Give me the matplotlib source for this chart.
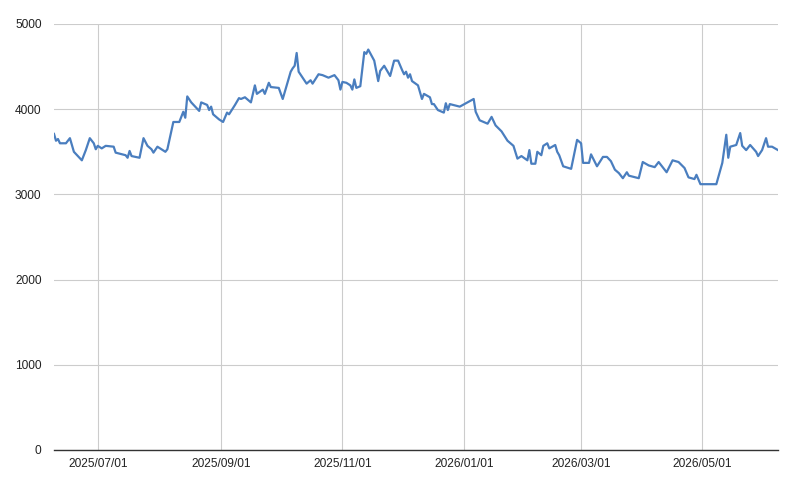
import matplotlib
matplotlib.use("Agg")
import matplotlib.pyplot as plt
import matplotlib.dates as mdates
import pandas as pd

dates = [
    "2025-06-09", "2025-06-10", "2025-06-11", "2025-06-12", "2025-06-15", "2025-06-17",
    "2025-06-19", "2025-06-21", "2025-06-23", "2025-06-25", "2025-06-27", "2025-06-29",
    "2025-06-30", "2025-07-01", "2025-07-03", "2025-07-05", "2025-07-09", "2025-07-10",
    "2025-07-15", "2025-07-16", "2025-07-17", "2025-07-18", "2025-07-22", "2025-07-24",
    "2025-07-26", "2025-07-28", "2025-07-29", "2025-07-31", "2025-08-02", "2025-08-04",
    "2025-08-05", "2025-08-08", "2025-08-11", "2025-08-13", "2025-08-14", "2025-08-15",
    "2025-08-17", "2025-08-19", "2025-08-21", "2025-08-22", "2025-08-25", "2025-08-26",
    "2025-08-27", "2025-08-28", "2025-08-31", "2025-09-02", "2025-09-04", "2025-09-05",
    "2025-09-08", "2025-09-10", "2025-09-11", "2025-09-13", "2025-09-16", "2025-09-18",
    "2025-09-19", "2025-09-22", "2025-09-23", "2025-09-25", "2025-09-26", "2025-09-30",
    "2025-10-02", "2025-10-06", "2025-10-07", "2025-10-08", "2025-10-09", "2025-10-10",
    "2025-10-12", "2025-10-14", "2025-10-16", "2025-10-17", "2025-10-20", "2025-10-22",
    "2025-10-25", "2025-10-28", "2025-10-30", "2025-10-31", "2025-11-01", "2025-11-03",
    "2025-11-05", "2025-11-06", "2025-11-07", "2025-11-08", "2025-11-10", "2025-11-12",
    "2025-11-13", "2025-11-14", "2025-11-17", "2025-11-19", "2025-11-20", "2025-11-22",
    "2025-11-25", "2025-11-27", "2025-11-29", "2025-12-01", "2025-12-02", "2025-12-03",
    "2025-12-04", "2025-12-05", "2025-12-06", "2025-12-09", "2025-12-11", "2025-12-12",
    "2025-12-15", "2025-12-16", "2025-12-17", "2025-12-19", "2025-12-22", "2025-12-23",
    "2025-12-24", "2025-12-25", "2025-12-30", "2026-01-06", "2026-01-07", "2026-01-09",
    "2026-01-13", "2026-01-15", "2026-01-17", "2026-01-20", "2026-01-23", "2026-01-26",
    "2026-01-28", "2026-01-30", "2026-02-02", "2026-02-03", "2026-02-04", "2026-02-06",
    "2026-02-07", "2026-02-09", "2026-02-10", "2026-02-12", "2026-02-13", "2026-02-16",
    "2026-02-17", "2026-02-18", "2026-02-20", "2026-02-24", "2026-02-27", "2026-03-01",
    "2026-03-02", "2026-03-05", "2026-03-06", "2026-03-09", "2026-03-12", "2026-03-14",
    "2026-03-16", "2026-03-18", "2026-03-20", "2026-03-22", "2026-03-24", "2026-03-25",
    "2026-03-30", "2026-04-01", "2026-04-04", "2026-04-07", "2026-04-09", "2026-04-11",
    "2026-04-13", "2026-04-16", "2026-04-19", "2026-04-22", "2026-04-24", "2026-04-27",
    "2026-04-28", "2026-04-30", "2026-05-02", "2026-05-08", "2026-05-11", "2026-05-13",
    "2026-05-14", "2026-05-15", "2026-05-18", "2026-05-20", "2026-05-21", "2026-05-23",
    "2026-05-25", "2026-05-28", "2026-05-29", "2026-05-31", "2026-06-02", "2026-06-03",
    "2026-06-05", "2026-06-08",
]

values = [
    3710, 3630, 3650, 3600, 3600, 3660,
    3500, 3450, 3400, 3520, 3660, 3600,
    3530, 3570, 3540, 3570, 3560, 3490,
    3460, 3430, 3510, 3450, 3430, 3660,
    3570, 3530, 3490, 3560, 3530, 3500,
    3530, 3850, 3850, 3970, 3900, 4150,
    4080, 4030, 3980, 4080, 4050, 3990,
    4030, 3940, 3880, 3850, 3960, 3940,
    4050, 4130, 4120, 4140, 4080, 4280,
    4180, 4230, 4180, 4310, 4260, 4250,
    4120, 4440, 4480, 4510, 4660, 4440,
    4370, 4300, 4340, 4300, 4410, 4400,
    4370, 4400, 4340, 4230, 4320, 4310,
    4280, 4230, 4350, 4250, 4270, 4670,
    4650, 4700, 4570, 4330, 4450, 4510,
    4390, 4570, 4570, 4460, 4410, 4440,
    4370, 4410, 4330, 4280, 4120, 4180,
    4140, 4060, 4060, 3990, 3960, 4070,
    3990, 4060, 4030, 4120, 3970, 3870,
    3830, 3910, 3810, 3740, 3630, 3570,
    3420, 3450, 3400, 3520, 3360, 3360,
    3500, 3460, 3570, 3600, 3540, 3580,
    3500, 3460, 3330, 3300, 3640, 3600,
    3370, 3370, 3470, 3330, 3440, 3440,
    3390, 3290, 3250, 3190, 3260, 3220,
    3190, 3380, 3340, 3320, 3380, 3320,
    3260, 3400, 3380, 3310, 3200, 3180,
    3230, 3120, 3120, 3120, 3370, 3700,
    3430, 3560, 3580, 3720, 3570, 3520,
    3580, 3500, 3450, 3520, 3660, 3560,
    3560, 3520,
]

tick_dates = ["2025-07-01", "2025-09-01", "2025-11-01", "2026-01-01", "2026-03-01", "2026-05-01"]
y_ticks = [0, 1000, 2000, 3000, 4000, 5000]

x = pd.to_datetime(dates)

plt.rcParams["font.family"] = ["Liberation Sans", "DejaVu Sans"]

fig = plt.figure(figsize=(7.97, 4.87), dpi=100)
ax = fig.add_axes([54 / 797, 1 - 450 / 487, (778 - 54) / 797, (450 - 24) / 487])

ax.plot(x, values, color="#4a7ebf", linewidth=1.6, solid_joinstyle="round")

ax.set_ylim(0, 5000)
ax.set_xlim(x[0], x[-1])
ax.set_yticks(y_ticks)
ax.set_xticks(pd.to_datetime(tick_dates))
ax.xaxis.set_major_formatter(mdates.DateFormatter("%Y/%m/%d"))

ax.grid(True, color="#cccccc", linewidth=0.8)
ax.set_axisbelow(True)
for side in ["top", "right", "left"]:
    ax.spines[side].set_visible(False)
ax.spines["bottom"].set_color("#333333")
ax.spines["bottom"].set_linewidth(1.0)
ax.spines["bottom"].set_zorder(3)

ax.tick_params(axis="both", length=0, labelsize=8.6, colors="#222222")
ax.tick_params(axis="x", pad=6)
ax.tick_params(axis="y", pad=9)

fig.savefig("out.png", dpi=100, facecolor="white")
